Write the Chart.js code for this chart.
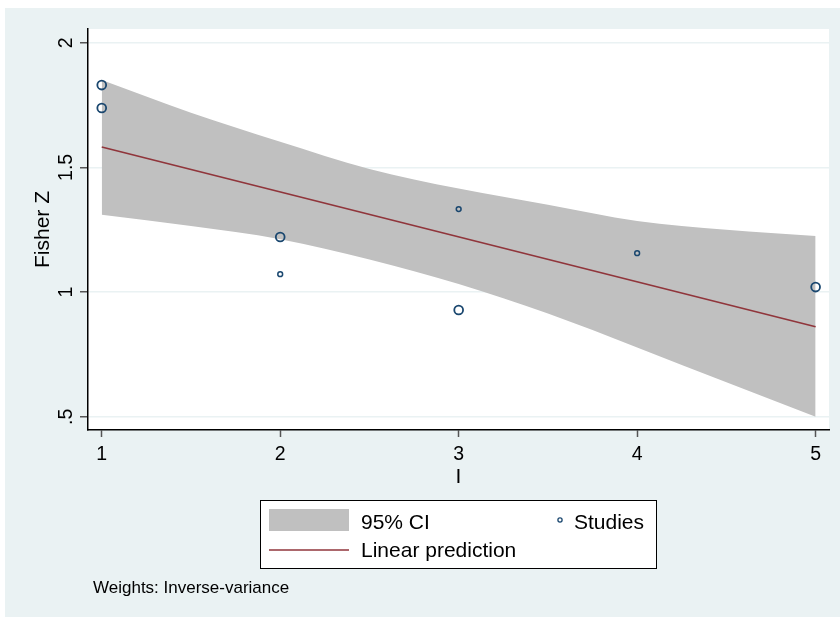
<!DOCTYPE html>
<html><head><meta charset="utf-8">
<script src="https://cdn.jsdelivr.net/npm/chart.js@4.4.1/dist/chart.umd.min.js"></script>
<style>html,body{margin:0;padding:0;background:#fff;overflow:hidden}canvas{display:block}</style>
</head><body>
<canvas id="c" width="840" height="617"></canvas>
<script>
// ---- data ----
const studyX = [1, 1, 2, 2, 3, 3, 4, 5];
const studyZ = [1.830, 1.738, 1.221, 1.072, 1.333, 0.928, 1.156, 1.020];
const studyWeight = [1, 1, 1, 0.3, 0.3, 1, 0.3, 1];
const predX = [1, 5];
const predZ = [1.582, 0.861];
const ciX = [1, 1.5, 2, 2.5, 3, 3.5, 4, 4.5, 5];
const ciUpper = [1.850, 1.719, 1.603, 1.494, 1.415, 1.350, 1.285, 1.250, 1.225];
const ciLower = [1.310, 1.265, 1.212, 1.131, 1.032, 0.914, 0.778, 0.638, 0.500];
const xTicks = [1, 2, 3, 4, 5];
const xTickLabels = ['1', '2', '3', '4', '5'];
const yTicks = [0.5, 1, 1.5, 2];
const yTickLabels = ['.5', '1', '1.5', '2'];
const xTitle = 'I';
const yTitle = 'Fisher Z';
const legendLabels = ['95% CI', 'Linear prediction', 'Studies'];
const noteText = 'Weights: Inverse-variance';

// ---- styles ----
const FONT = '"Liberation Sans", Arial, Helvetica, sans-serif';
const BG = '#eaf2f3';
const BAND = '#c0c0c0';
const RED = '#90353b';
const NAVY = '#1a476f';

const pts = (xs, ys) => xs.map((x, i) => ({x: x, y: ys[i]}));

const bgPlugin = {
  id: 'bg',
  beforeDraw(chart) {
    const ctx = chart.ctx, a = chart.chartArea;
    ctx.save();
    ctx.fillStyle = '#fff';
    ctx.fillRect(0, 0, chart.width, chart.height);
    ctx.fillStyle = BG;
    ctx.fillRect(5, 8, chart.width - 5, chart.height - 8);
    ctx.fillStyle = '#fff';
    ctx.fillRect(a.left, a.top, a.right - a.left, a.bottom - a.top);
    ctx.restore();
  }
};

const textPlugin = {
  id: 'texts',
  afterDraw(chart) {
    const ctx = chart.ctx, a = chart.chartArea;
    const xs = chart.scales.x, ys = chart.scales.y;
    ctx.save();
    ctx.fillStyle = '#000';
    // x tick labels
    ctx.font = '19.5px ' + FONT;
    ctx.textAlign = 'center';
    ctx.textBaseline = 'alphabetic';
    xTicks.forEach((v, i) => ctx.fillText(xTickLabels[i], xs.getPixelForValue(v), 460));
    // y tick labels (rotated)
    yTicks.forEach((v, i) => {
      ctx.save();
      ctx.translate(72, ys.getPixelForValue(v));
      ctx.rotate(-Math.PI / 2);
      ctx.fillText(yTickLabels[i], 0, 0);
      ctx.restore();
    });
    // axis titles
    ctx.font = '21px ' + FONT;
    ctx.fillText(xTitle, (a.left + a.right) / 2, 483);
    ctx.save();
    ctx.translate(49, (a.top + a.bottom) / 2);
    ctx.rotate(-Math.PI / 2);
    ctx.fillText(yTitle, 0, 0);
    ctx.restore();
    // legend
    ctx.fillStyle = '#fff';
    ctx.fillRect(260.5, 500.5, 396, 68);
    ctx.strokeStyle = '#000';
    ctx.lineWidth = 1;
    ctx.strokeRect(260.5, 500.5, 396, 68);
    ctx.fillStyle = BAND;
    ctx.fillRect(269, 509, 80, 22);
    ctx.strokeStyle = RED;
    ctx.lineWidth = 1.6;
    ctx.beginPath(); ctx.moveTo(269, 550); ctx.lineTo(349, 550); ctx.stroke();
    ctx.strokeStyle = NAVY;
    ctx.lineWidth = 1.3;
    ctx.beginPath(); ctx.arc(560, 520, 2.1, 0, Math.PI * 2); ctx.stroke();
    ctx.fillStyle = '#000';
    ctx.font = '21px ' + FONT;
    ctx.textAlign = 'left';
    ctx.fillText(legendLabels[0], 361, 529);
    ctx.fillText(legendLabels[1], 361, 557);
    ctx.fillText(legendLabels[2], 574, 529);
    // note
    ctx.font = '17px ' + FONT;
    ctx.fillText(noteText, 93, 593);
    ctx.restore();
  }
};

new Chart(document.getElementById('c'), {
  type: 'scatter',
  data: {
    datasets: [
      {
        type: 'scatter',
        label: legendLabels[2],
        data: pts(studyX, studyZ),
        pointStyle: 'circle',
        pointRadius: studyWeight.map(w => 4.4 * Math.sqrt(w)),
        pointBorderWidth: studyWeight.map(w => w > 0.5 ? 1.8 : 1.5),
        pointBackgroundColor: 'rgba(0,0,0,0)',
        pointBorderColor: NAVY,
        order: 0
      },
      {
        type: 'line',
        label: legendLabels[1],
        data: pts(predX, predZ),
        borderColor: RED,
        borderWidth: 1.7,
        pointRadius: 0,
        fill: false,
        order: 1
      },
      {
        type: 'line',
        label: legendLabels[0],
        data: pts(ciX, ciUpper),
        borderColor: 'rgba(0,0,0,0)',
        borderWidth: 1,
        backgroundColor: BAND,
        pointRadius: 0,
        cubicInterpolationMode: 'monotone',
        fill: 3,
        order: 2
      },
      {
        type: 'line',
        label: 'lower',
        data: pts(ciX, ciLower),
        borderColor: 'rgba(0,0,0,0)',
        borderWidth: 1,
        pointRadius: 0,
        cubicInterpolationMode: 'monotone',
        fill: false,
        order: 3
      }
    ]
  },
  options: {
    responsive: false,
    animation: false,
    layout: {padding: {top: 29, right: 11, left: 0, bottom: 0}},
    plugins: {legend: {display: false}, tooltip: {enabled: false}},
    scales: {
      x: {
        type: 'linear',
        min: 0.923, max: 5.075,
        afterBuildTicks: s => { s.ticks = xTicks.map(v => ({value: v})); },
        afterFit: s => { s.height = 187; },
        ticks: {display: false},
        grid: {drawOnChartArea: false, drawTicks: true, tickLength: 7, tickColor: '#555', tickWidth: 1.5},
        border: {display: true, color: '#000', width: 1.5}
      },
      y: {
        type: 'linear',
        min: 0.447, max: 2.055,
        afterBuildTicks: s => { s.ticks = yTicks.map(v => ({value: v})); },
        afterFit: s => { s.width = 88; },
        ticks: {display: false},
        grid: {color: BG, lineWidth: 1.5, drawTicks: true, tickLength: 8, tickColor: '#555', tickWidth: 1.5},
        border: {display: true, color: '#000', width: 1.5}
      }
    }
  },
  plugins: [bgPlugin, textPlugin]
});
</script>
</body></html>
